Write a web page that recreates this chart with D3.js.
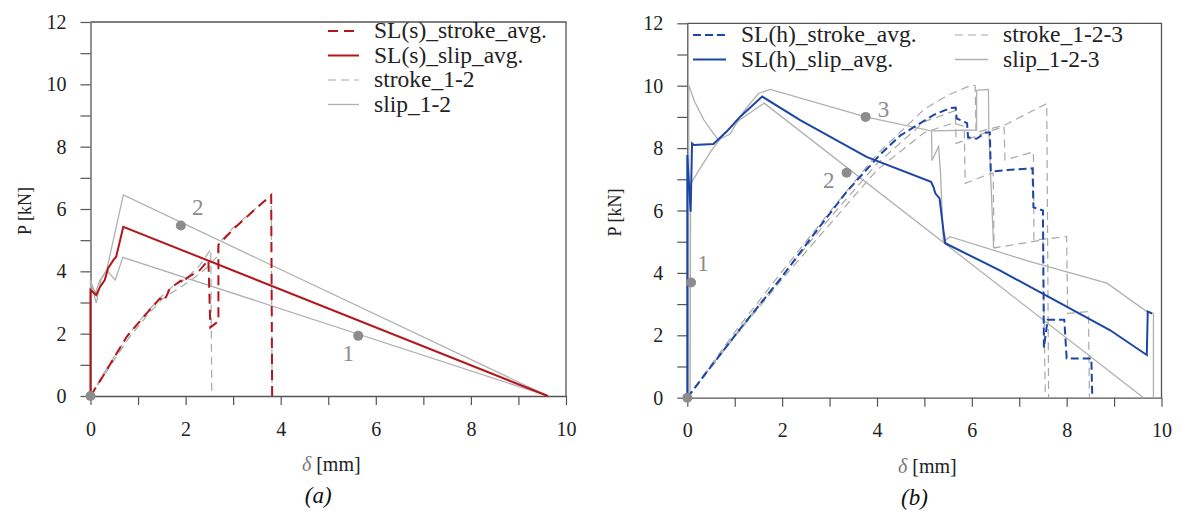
<!DOCTYPE html>
<html>
<head>
<meta charset="utf-8">
<script src="https://cdn.jsdelivr.net/npm/d3@7"></script>
<style>
  body { margin: 0; background: #fff; }
  svg text { font-family: "Liberation Serif", "Times New Roman", "DejaVu Serif", serif !important; }
</style>
</head>
<body>
<div id="chart"></div>
<script>
// ---- data: panel (a), [delta mm, P kN]
var aStrokeAvg = [[0,0],[0.3,0.73],[0.76,1.9],[1.18,2.65],[1.46,3.13],[1.55,3.05],[1.67,3.45],[1.9,3.7],[1.95,3.62],[2.02,3.78],[2.3,4.04],[2.48,4.36],[2.52,2.2],[2.69,2.4],[2.69,4.85],[3.0,5.35],[3.4,5.9],[3.8,6.45],[3.82,0]];
var aSlipAvg = [[0,0],[0,3.4],[0.12,3.24],[0.2,3.5],[0.3,3.72],[0.37,4.1],[0.48,4.36],[0.54,4.47],[0.69,5.43],[9.62,0]];
var aStroke12 = [
  [[0,0],[0.3,0.78],[0.8,1.98],[1.2,2.72],[1.5,3.2],[1.75,3.55],[2.0,3.75],[2.3,4.2],[2.53,4.7],[2.55,0]],
  [[0,0],[0.3,0.7],[0.8,1.85],[1.2,2.6],[1.5,3.1],[1.8,3.4],[2.1,3.7],[2.4,4.05],[2.65,4.45],[2.7,4.9],[3.0,5.4],[3.4,5.92],[3.8,6.45],[3.82,0]]
];
var aSlip12 = [
  [[0,0],[0,3.72],[0.12,2.98],[0.23,3.78],[0.34,4.04],[0.69,6.45],[9.62,0]],
  [[0,0],[0,3.7],[0.1,3.3],[0.2,3.72],[0.26,3.83],[0.34,4.04],[0.52,3.72],[0.68,4.45],[9.62,0]]
];
var aPoints = [[0,0,""],[1.9,5.47,"2"],[5.63,1.93,"1"]];

// ---- data: panel (b)
var bStrokeAvg = [[0,0],[0.5,1.0],[1.11,2.2],[1.96,3.8],[2.6,5.1],[3.36,6.6],[4.07,7.8],[4.49,8.4],[5.19,9.06],[5.54,9.28],[5.66,9.3],[5.68,8.95],[5.9,8.8],[5.92,8.35],[6.1,8.3],[6.3,8.5],[6.38,8.5],[6.4,7.25],[6.75,7.3],[7.28,7.35],[7.3,6.1],[7.5,6.0],[7.52,1.6],[7.6,2.5],[7.95,2.5],[8.0,1.26],[8.52,1.26],[8.54,0]];
var bSlipAvg = [[0,0],[0,7.78],[0.07,5.96],[0.1,8.15],[0.14,8.1],[0.55,8.13],[0.83,8.53],[1.11,9.0],[1.58,9.65],[2.38,8.9],[3.78,7.72],[5.14,6.92],[5.19,6.76],[5.23,6.55],[5.32,6.39],[5.4,5.37],[5.44,4.95],[6.59,4.08],[8.91,2.17],[9.69,1.37],[9.71,2.76],[9.8,2.7]];
var bStroke123 = [
  [[0,0],[1,2.1],[2,4.05],[3,5.95],[4,7.8],[5,9.25],[5.5,9.7],[6.0,10.02],[6.07,10.0],[6.09,8.5],[6.7,8.74],[7.58,9.43],[7.62,0]],
  [[0,0],[1,2.0],[2,3.9],[3,5.75],[4,7.5],[5,8.85],[5.65,9.2],[5.67,8.15],[5.85,8.25],[6.3,8.5],[6.68,8.69],[6.7,7.62],[7.3,7.88],[7.31,5.05],[8.0,5.16],[8.02,2.7],[8.46,2.76],[8.48,0]],
  [[0,0],[1,1.95],[2,3.8],[3,5.55],[4,7.3],[5,8.5],[5.6,8.8],[5.84,8.7],[5.86,6.87],[6.32,7.14],[6.45,7.2],[6.47,4.8],[7.27,5.0],[7.5,5.05],[7.55,0]]
];
var bSlip123 = [
  [[0.03,0],[0.03,10.02],[0.15,9.5],[0.35,8.9],[0.65,8.26],[0.9,8.45],[1.2,9.2],[1.5,9.75],[1.75,9.88],[3.76,9.0],[5.15,8.55],[5.16,7.6],[5.3,8.05],[5.34,7.2],[5.4,5.0],[5.54,5.16],[7.23,4.36],[8.85,3.67],[9.69,2.76],[9.83,2.7],[9.83,0]],
  [[0.06,0],[0.07,6.85],[0.25,7.3],[0.5,7.9],[0.8,8.5],[1.1,8.9],[1.62,9.44],[9.62,0]],
  [[5.15,8.55],[6.1,8.58],[6.1,9.85],[6.35,9.88],[6.36,8.5],[6.46,4.8]]
];
var bPoints = [[0,0,""],[0.08,3.69,"1"],[3.36,7.21,"2"],[3.76,9.0,"3"]];

var xTicks = d3.range(0, 11, 1);
var yTicks = d3.range(0, 13, 1);

var red = "#b3161b", blue = "#1c46a6", grey = "#b0b0b0", greyD = "#a8a8a8", axisCol = "#555";
var serif = "'Liberation Serif', 'Times New Roman', 'DejaVu Serif', serif";

var svg = d3.select("#chart").append("svg").attr("width", 1181).attr("height", 511)
  .attr("font-family", serif);

function panel(opt) {
  var x = d3.scaleLinear().domain([0, 10]).range(opt.xr);
  var y = d3.scaleLinear().domain([0, 12]).range(opt.yr);
  var g = svg.append("g");
  var line = d3.line().x(function(d) { return x(d[0]); }).y(function(d) { return y(d[1]); });

  // frame top + right
  g.append("path")
    .attr("d", "M" + x(0) + "," + y(12) + "H" + x(10) + "V" + y(0))
    .attr("fill", "none").attr("stroke", axisCol).attr("stroke-width", 1.3);

  var ax = g.append("g").attr("transform", "translate(0," + y(0) + ")")
    .call(d3.axisBottom(x).tickValues(xTicks).tickSize(9).tickSizeOuter(0)
      .tickFormat(function(d) { return d % 2 === 0 ? d : ""; }));
  var ay = g.append("g").attr("transform", "translate(" + x(0) + ",0)")
    .call(d3.axisLeft(y).tickValues(yTicks).tickSize(10).tickSizeOuter(0)
      .tickFormat(function(d) { return d % 2 === 0 ? d : ""; }));
  [ax, ay].forEach(function(a) {
    a.attr("font-family", serif).attr("font-size", 20);
    a.select(".domain").attr("stroke", axisCol).attr("stroke-width", 1.3);
    a.selectAll(".tick line").attr("stroke", axisCol).attr("stroke-width", 1.2);
    a.selectAll(".tick text").attr("fill", "#222");
  });
  ax.selectAll(".tick text").attr("dy", "1.38em");
  ay.selectAll(".tick text").attr("x", -24).attr("dy", "0.33em");

  // series
  opt.greyDash.forEach(function(s) {
    g.append("path").datum(s).attr("d", line).attr("fill", "none")
      .attr("stroke", greyD).attr("stroke-width", 1.2).attr("stroke-dasharray", "8,5");
  });
  opt.greySolid.forEach(function(s) {
    g.append("path").datum(s).attr("d", line).attr("fill", "none")
      .attr("stroke", grey).attr("stroke-width", 1.3);
  });
  g.append("path").datum(opt.strokeAvg).attr("d", line).attr("fill", "none")
    .attr("stroke", opt.col).attr("stroke-width", 2).attr("stroke-dasharray", opt.dash);
  g.append("path").datum(opt.slipAvg).attr("d", line).attr("fill", "none")
    .attr("stroke", opt.col).attr("stroke-width", 2);

  // annotated points
  opt.points.forEach(function(p, i) {
    g.append("circle").attr("cx", x(p[0])).attr("cy", y(p[1])).attr("r", 5).attr("fill", "#8c8c8c");
    if (p[2]) {
      var o = opt.labelOff[i];
      g.append("text").attr("x", x(p[0]) + o[0]).attr("y", y(p[1]) + o[1])
        .attr("text-anchor", "middle").attr("fill", "#8c8c8c").attr("font-size", 23).text(p[2]);
    }
  });

  // axis titles
  g.append("text").attr("transform", "translate(" + opt.yTitleX + "," + (y(6) + 2) + ") rotate(-90)")
    .attr("text-anchor", "middle").attr("fill", "#222").attr("font-size", 18).text("P [kN]");
  var t = g.append("text").attr("x", (x(0) + x(10)) / 2 + 3).attr("y", y(0) + 75)
    .attr("text-anchor", "middle").attr("fill", "#222").attr("font-size", 20);
  t.append("tspan").attr("font-style", "italic").attr("fill", "#777").text("\u03b4");
  t.append("tspan").text(" [mm]");
  g.append("text").attr("x", (x(0) + x(10)) / 2 - 10).attr("y", y(0) + 107)
    .attr("text-anchor", "middle").attr("fill", "#111").attr("font-style", "italic")
    .attr("font-size", 23).text(opt.tag);

  // legend
  opt.legend.forEach(function(l) {
    g.append("line").attr("x1", l.x).attr("x2", l.x + l.w).attr("y1", l.y).attr("y2", l.y)
      .attr("stroke", l.c).attr("stroke-width", l.sw).attr("stroke-dasharray", l.d || null);
    g.append("text").attr("x", l.x + l.w + 15).attr("y", l.y + 7).attr("fill", "#222")
      .attr("font-size", 23.5).text(l.t);
  });
}

panel({
  xr: [90.5, 566], yr: [396, 22], col: red, dash: "10,6",
  strokeAvg: aStrokeAvg, slipAvg: aSlipAvg, greyDash: aStroke12, greySolid: aSlip12,
  points: aPoints, labelOff: [null, [17, -11], [-10, 25]],
  yTitleX: 31, tag: "(a)",
  legend: [
    {x: 328, y: 31, w: 31, c: red, sw: 2, d: "10,6", t: "SL(s)_stroke_avg."},
    {x: 328, y: 55.5, w: 31, c: red, sw: 2, t: "SL(s)_slip_avg."},
    {x: 328, y: 80, w: 31, c: greyD, sw: 1.2, d: "8,5", t: "stroke_1-2"},
    {x: 328, y: 104.5, w: 31, c: grey, sw: 1.3, t: "slip_1-2"}
  ]
});

panel({
  xr: [687.3, 1161.5], yr: [397.7, 23.3], col: blue, dash: "8,4",
  strokeAvg: bStrokeAvg, slipAvg: bSlipAvg, greyDash: bStroke123, greySolid: bSlip123,
  points: bPoints, labelOff: [null, [12, -12], [-18, 15], [18, 0]],
  yTitleX: 621, tag: "(b)",
  legend: [
    {x: 693, y: 35, w: 33, c: blue, sw: 2, d: "8,4", t: "SL(h)_stroke_avg."},
    {x: 693, y: 59.5, w: 33, c: blue, sw: 2, t: "SL(h)_slip_avg."},
    {x: 955, y: 35, w: 33, c: greyD, sw: 1.2, d: "8,5", t: "stroke_1-2-3"},
    {x: 955, y: 59.5, w: 33, c: grey, sw: 1.3, t: "slip_1-2-3"}
  ]
});
</script>
</body>
</html>
